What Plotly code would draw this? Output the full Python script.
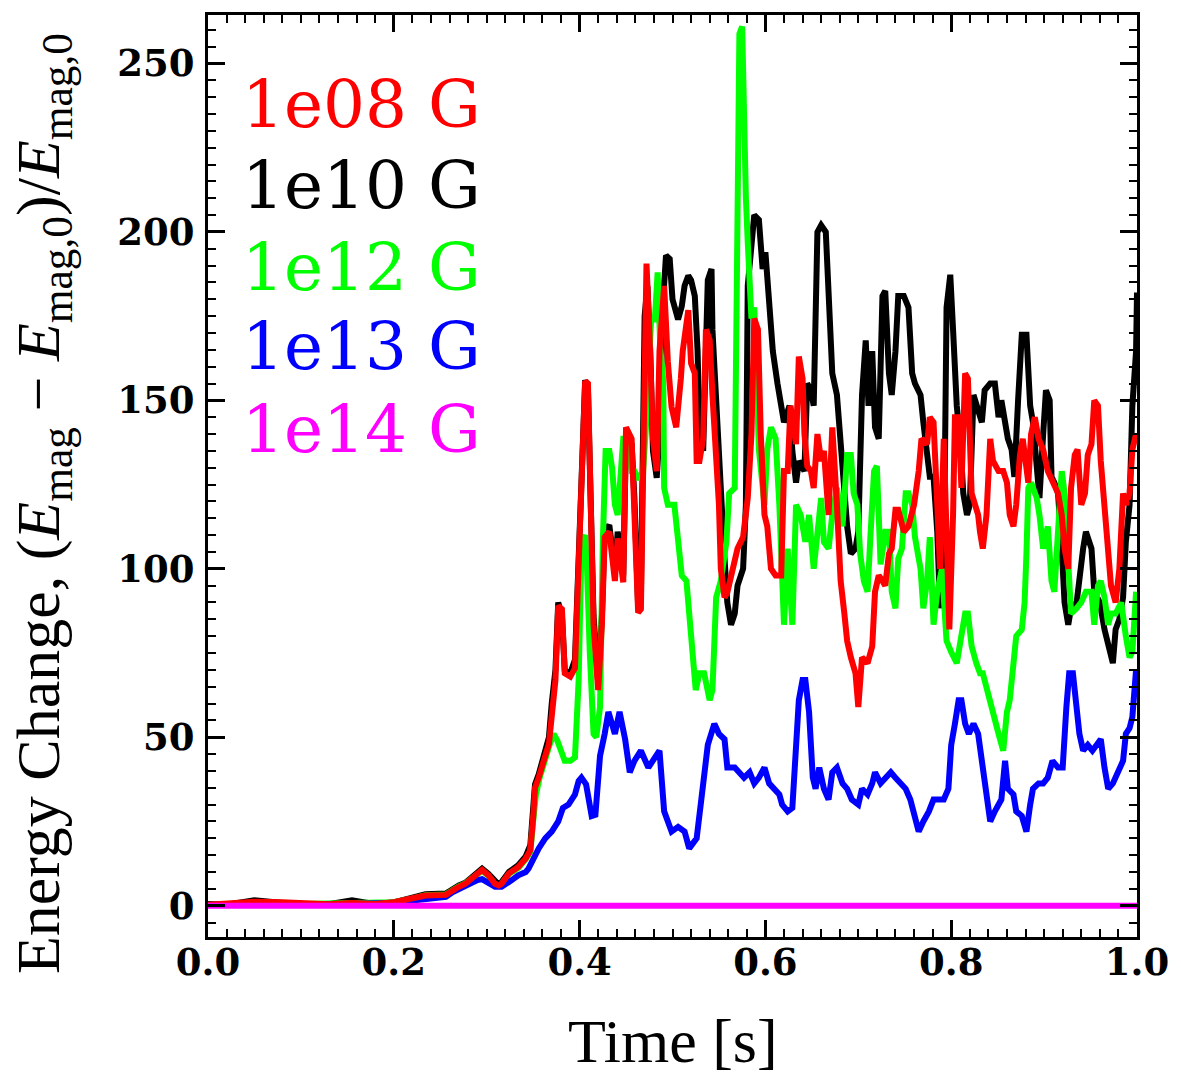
import plotly.graph_objects as go

# Magnetic energy change relative to the initial value, for five seed field strengths.

# 1e08 G
time_1e08 = [
    0.000, 0.020, 0.050, 0.080, 0.100, 0.130, 0.155, 0.180, 0.200, 0.220,
    0.234, 0.256, 0.263, 0.270, 0.277, 0.284, 0.290, 0.295, 0.302, 0.309,
    0.313, 0.316, 0.324, 0.334, 0.342, 0.347, 0.350, 0.352, 0.356, 0.360,
    0.363, 0.367, 0.370, 0.374, 0.377, 0.381, 0.384, 0.390, 0.395, 0.399,
    0.402, 0.406, 0.409, 0.411, 0.415, 0.420, 0.424, 0.427, 0.432, 0.438,
    0.441, 0.447, 0.450, 0.456, 0.459, 0.463, 0.466, 0.468, 0.472, 0.475,
    0.479, 0.483, 0.486, 0.491, 0.495, 0.499, 0.504, 0.509, 0.511, 0.517,
    0.520, 0.524, 0.526, 0.529, 0.533, 0.536, 0.540, 0.543, 0.547, 0.550,
    0.552, 0.556, 0.559, 0.565, 0.570, 0.576, 0.581, 0.585, 0.588, 0.592,
    0.595, 0.599, 0.602, 0.606, 0.611, 0.617, 0.620, 0.624, 0.627, 0.633,
    0.636, 0.640, 0.642, 0.645, 0.649, 0.652, 0.656, 0.660, 0.663, 0.668,
    0.672, 0.677, 0.681, 0.685, 0.688, 0.692, 0.697, 0.700, 0.704, 0.710,
    0.715, 0.718, 0.722, 0.726, 0.729, 0.733, 0.736, 0.740, 0.743, 0.749,
    0.754, 0.760, 0.765, 0.768, 0.774, 0.777, 0.781, 0.785, 0.788, 0.792,
    0.795, 0.798, 0.802, 0.804, 0.808, 0.811, 0.815, 0.818, 0.822, 0.826,
    0.829, 0.831, 0.834, 0.838, 0.842, 0.845, 0.851, 0.856, 0.860, 0.863,
    0.867, 0.870, 0.874, 0.877, 0.883, 0.886, 0.890, 0.894, 0.899, 0.904,
    0.909, 0.915, 0.919, 0.922, 0.926, 0.929, 0.933, 0.936, 0.940, 0.944,
    0.947, 0.951, 0.954, 0.958, 0.961, 0.965, 0.969, 0.972, 0.977, 0.981,
    0.985, 0.988, 0.992, 0.995, 0.999,
]
dE_1e08 = [
    0.3, 0.5, 1.2, 1.0, 0.6, 0.4, 0.8, 0.5, 1.0, 2.0,
    3.0, 3.2, 4.5, 5.6, 6.5, 8.2, 9.5, 10.6, 9.0, 6.5,
    6.0, 6.5, 9.6, 11.5, 14.0, 16.5, 26.0, 35.0, 38.0, 41.0,
    44.5, 48.0, 57.5, 67.0, 89.0, 88.0, 69.0, 68.0, 70.5, 100.0,
    119.0, 155.7, 155.0, 129.0, 83.5, 64.0, 83.5, 109.4, 111.0, 96.4,
    109.0, 96.0, 142.0, 138.6, 119.0, 87.0, 88.0, 129.0, 190.6, 171.0,
    138.6, 129.0, 164.6, 184.0, 161.4, 148.0, 142.0, 156.5, 164.6, 176.8,
    161.0, 158.0, 132.0, 132.0, 138.6, 171.0, 168.0, 151.6, 133.8, 119.0,
    100.0, 91.5, 93.0, 101.0, 106.0, 109.4, 121.0, 140.0, 174.3, 171.0,
    140.0, 116.0, 112.6, 100.0, 98.0, 98.0, 129.0, 129.0, 148.4, 137.0,
    163.0, 156.5, 140.0, 130.5, 129.0, 124.0, 140.0, 132.0, 135.0, 116.0,
    142.0, 119.0, 96.4, 86.7, 78.6, 73.7, 69.0, 59.0, 73.7, 72.0,
    77.0, 93.2, 98.0, 96.4, 95.0, 104.5, 106.0, 117.5, 117.5, 111.0,
    112.6, 119.0, 129.0, 138.6, 137.0, 145.0, 143.5, 119.0, 100.0, 138.6,
    100.0, 82.0, 116.0, 145.0, 145.0, 124.0, 158.0, 156.5, 122.4, 119.0,
    116.0, 111.0, 106.0, 116.0, 138.6, 132.0, 129.0, 129.0, 125.6, 116.0,
    112.6, 119.0, 133.8, 138.6, 125.6, 140.0, 145.0, 138.6, 135.4, 129.0,
    125.6, 122.4, 116.0, 106.0, 100.0, 124.0, 133.8, 135.4, 119.0, 122.4,
    133.8, 137.0, 150.0, 148.4, 132.0, 119.0, 106.0, 95.0, 90.0, 100.0,
    122.4, 119.0, 122.4, 135.4, 140.0,
]

# 1e10 G
time_1e10 = [
    0.000, 0.020, 0.050, 0.080, 0.100, 0.130, 0.155, 0.180, 0.200, 0.220,
    0.234, 0.256, 0.263, 0.270, 0.277, 0.284, 0.290, 0.295, 0.302, 0.309,
    0.313, 0.316, 0.324, 0.334, 0.342, 0.347, 0.350, 0.352, 0.356, 0.360,
    0.363, 0.367, 0.370, 0.374, 0.377, 0.381, 0.384, 0.390, 0.395, 0.399,
    0.402, 0.406, 0.409, 0.411, 0.415, 0.420, 0.424, 0.427, 0.432, 0.438,
    0.441, 0.447, 0.450, 0.456, 0.459, 0.463, 0.466,
    0.470, 0.473, 0.476, 0.479, 0.483, 0.486, 0.490, 0.493, 0.497, 0.500,
    0.504, 0.506, 0.510, 0.513, 0.517, 0.520, 0.524, 0.527, 0.529, 0.533,
    0.538, 0.542, 0.543, 0.547, 0.550, 0.552, 0.556, 0.559, 0.563, 0.567,
    0.570, 0.576, 0.579, 0.581, 0.585, 0.588, 0.593, 0.597, 0.600, 0.604,
    0.608, 0.613, 0.617, 0.620, 0.626, 0.629, 0.633, 0.636, 0.642, 0.645,
    0.649, 0.652, 0.656, 0.660, 0.665, 0.668, 0.672, 0.677, 0.681, 0.685,
    0.688, 0.692, 0.697, 0.700, 0.704, 0.708, 0.711, 0.715, 0.718, 0.722,
    0.726, 0.729, 0.733, 0.736, 0.740, 0.743, 0.749, 0.754, 0.758, 0.761,
    0.767, 0.770, 0.774, 0.777, 0.781, 0.785, 0.788, 0.792, 0.795, 0.799,
    0.802, 0.806, 0.810, 0.813, 0.817, 0.820, 0.824, 0.827, 0.833, 0.836,
    0.842, 0.847, 0.851, 0.854, 0.858, 0.861, 0.865, 0.868, 0.872, 0.876,
    0.881, 0.885, 0.888, 0.892, 0.895, 0.899, 0.902, 0.906, 0.908, 0.911,
    0.915, 0.919, 0.922, 0.926, 0.929, 0.935, 0.938, 0.942, 0.945, 0.951,
    0.954, 0.960, 0.965, 0.970, 0.974, 0.977, 0.981, 0.985, 0.988, 0.992,
    0.995, 0.999, 1.000,
]
dE_1e10 = [
    0.5, 0.3, 1.6, 0.6, 0.3, 0.4, 1.6, 0.4, 1.0, 2.4,
    3.4, 3.6, 5.0, 6.0, 6.8, 8.6, 9.8, 11.0, 9.4, 7.0,
    6.2, 7.0, 10.0, 12.0, 14.6, 18.0, 27.5, 36.0, 39.0, 42.5,
    45.5, 50.0, 60.0, 70.0, 90.0, 86.0, 70.0, 69.0, 73.0, 103.0,
    122.0, 156.0, 153.0, 127.0, 86.0, 66.0, 86.0, 111.0, 113.0, 99.0,
    111.0, 98.0, 140.0, 137.0, 121.0, 89.0, 92.0,
    175.0, 184.0, 165.0, 135.0, 127.0, 140.0, 180.0, 193.0, 192.0, 180.0,
    176.0, 174.0, 178.0, 184.0, 187.0, 185.7, 181.0, 164.6, 142.0, 135.0,
    185.7, 189.0, 171.0, 150.0, 135.0, 116.0, 103.0, 90.0, 83.4, 86.7,
    95.0, 100.0, 119.0, 184.0, 197.0, 205.0, 203.6, 189.0, 194.0, 177.6,
    164.6, 155.0, 148.4, 143.5, 148.4, 135.0, 125.6, 132.0, 129.0, 155.0,
    153.0, 148.4, 200.0, 202.0, 200.0, 177.6, 158.0, 151.6, 135.4, 122.4,
    112.6, 104.5, 106.0, 111.0, 151.6, 167.8, 148.4, 164.6, 142.0, 138.6,
    181.0, 182.5, 158.0, 151.6, 164.6, 181.0, 181.0, 177.6, 158.0, 155.0,
    151.6, 143.5, 133.8, 127.3, 127.3, 111.0, 88.3, 100.0, 177.6, 187.3,
    171.0, 148.4, 137.0, 122.4, 116.0, 119.0, 151.6, 148.4, 143.5, 153.0,
    155.0, 155.0, 145.0, 150.0, 142.0, 138.6, 135.4, 127.3, 150.0, 169.5,
    169.5, 148.4, 143.5, 132.0, 121.0, 140.0, 153.0, 150.0, 127.3, 125.6,
    122.4, 106.0, 90.0, 83.4, 88.3, 90.0, 98.0, 106.0, 111.0, 106.0,
    93.2, 90.0, 82.0, 75.3, 72.0, 82.0, 85.0, 91.5, 108.0, 119.0,
    148.4, 164.6, 182.0,
]

# 1e12 G
time_1e12 = [
    0.000, 0.050, 0.100, 0.150, 0.200, 0.220, 0.234, 0.256, 0.263, 0.270,
    0.277, 0.284, 0.290, 0.295, 0.302, 0.309, 0.313, 0.316, 0.324, 0.334,
    0.342,
    0.347, 0.350, 0.353, 0.357, 0.360, 0.364, 0.368, 0.372, 0.376, 0.380,
    0.384, 0.390, 0.395, 0.399, 0.402, 0.406, 0.408, 0.411, 0.415, 0.418,
    0.422, 0.425, 0.428, 0.432, 0.435, 0.438, 0.441, 0.447, 0.452, 0.456,
    0.459, 0.463, 0.468, 0.472, 0.477, 0.481, 0.484, 0.487, 0.490, 0.491,
    0.495, 0.502, 0.506, 0.510, 0.515, 0.518, 0.522, 0.525, 0.529, 0.534,
    0.540, 0.543, 0.547, 0.552, 0.558, 0.561, 0.567, 0.568, 0.570, 0.572,
    0.575, 0.577, 0.579, 0.581, 0.585, 0.588, 0.591, 0.593, 0.599, 0.602,
    0.606, 0.611, 0.615, 0.617, 0.620, 0.624, 0.629, 0.633, 0.638, 0.643,
    0.647, 0.652, 0.656, 0.660, 0.663, 0.668, 0.672, 0.677, 0.683, 0.688,
    0.692, 0.695, 0.699, 0.702, 0.706, 0.710, 0.713, 0.717, 0.720, 0.724,
    0.729, 0.733, 0.736, 0.740, 0.743, 0.747, 0.751, 0.754, 0.758, 0.761,
    0.767, 0.770, 0.774, 0.777, 0.781, 0.785, 0.790, 0.795, 0.800, 0.806,
    0.810, 0.815, 0.818, 0.822, 0.827, 0.831, 0.834, 0.840, 0.845, 0.851,
    0.856, 0.860, 0.863, 0.867, 0.870, 0.876, 0.879, 0.881, 0.883, 0.886,
    0.892, 0.895, 0.899, 0.904, 0.908, 0.911, 0.915, 0.919, 0.922, 0.926,
    0.929, 0.935, 0.940, 0.945, 0.951, 0.954, 0.958, 0.961, 0.965, 0.969,
    0.972, 0.977, 0.983, 0.988, 0.992, 0.995, 0.999,
]
dE_1e12 = [
    0.2, 0.8, 0.5, 0.6, 1.0, 2.1, 3.1, 3.3, 4.7, 5.7,
    6.6, 8.3, 9.6, 10.4, 8.8, 6.4, 6.0, 6.4, 9.4, 11.2,
    13.8,
    16.0, 25.0, 33.0, 38.0, 41.0, 45.0, 48.0, 51.0, 49.0, 46.0,
    43.0, 43.0, 44.0, 67.0, 108.0, 110.0, 100.0, 75.0, 51.0, 50.0,
    59.0, 108.0, 135.0, 135.0, 130.0, 119.0, 116.0, 138.6, 138.6, 129.0,
    129.0, 127.0, 127.0, 145.0, 174.0, 174.0, 188.0, 165.0, 156.0, 124.0,
    119.0, 119.0, 110.0, 98.0, 96.4, 86.7, 75.3, 64.0, 69.0, 69.0,
    61.0, 64.0, 91.5, 96.4, 108.0, 122.4, 124.0, 163.0, 224.7, 258.8,
    261.0, 229.5, 210.0, 197.0, 174.3, 177.6, 148.4, 135.4, 119.0, 135.4,
    142.0, 138.6, 119.0, 100.0, 83.4, 106.0, 83.4, 119.0, 116.0, 108.0,
    116.0, 100.0, 111.0, 121.0, 108.0, 106.0, 116.0, 124.0, 112.6, 133.8,
    133.8, 122.4, 119.0, 104.5, 96.4, 93.2, 109.4, 129.0, 130.5, 101.3,
    111.0, 111.0, 93.2, 88.3, 103.0, 106.0, 122.4, 122.4, 119.0, 109.4,
    100.0, 88.3, 96.4, 109.4, 83.4, 93.2, 100.0, 78.6, 75.3, 72.0,
    78.6, 86.7, 86.7, 77.0, 72.0, 69.0, 69.0, 62.3, 56.0, 51.0,
    46.0, 57.5, 61.0, 72.0, 80.0, 82.0, 90.0, 104.5, 124.0, 125.6,
    121.0, 116.0, 106.0, 112.6, 96.4, 93.2, 111.0, 129.0, 122.4, 98.0,
    86.7, 88.3, 90.0, 93.2, 93.2, 83.4, 95.0, 96.4, 91.5, 83.4,
    86.7, 86.7, 90.0, 80.0, 73.7, 75.3, 93.2,
]

# 1e13 G
time_1e13 = [
    0.000, 0.050, 0.100, 0.150, 0.200, 0.220, 0.240, 0.256, 0.263, 0.270,
    0.277, 0.284, 0.290, 0.295, 0.300, 0.309, 0.316, 0.322, 0.327, 0.334,
    0.342, 0.345, 0.352, 0.356, 0.363, 0.370, 0.377, 0.382, 0.388, 0.395,
    0.399, 0.402, 0.407, 0.413, 0.417, 0.422, 0.427, 0.431, 0.438, 0.443,
    0.449, 0.454, 0.459, 0.466, 0.474, 0.479, 0.486, 0.491, 0.499, 0.506,
    0.513, 0.518, 0.526, 0.531, 0.538, 0.545, 0.550, 0.556, 0.559, 0.567,
    0.572, 0.577, 0.583, 0.588, 0.593, 0.599, 0.604, 0.610, 0.615, 0.618,
    0.624, 0.629, 0.633, 0.636, 0.640, 0.643, 0.647, 0.651, 0.654, 0.658,
    0.663, 0.668, 0.672, 0.677, 0.683, 0.688, 0.693, 0.700, 0.704, 0.710,
    0.715, 0.718, 0.724, 0.729, 0.735, 0.740, 0.745, 0.751, 0.756, 0.761,
    0.765, 0.770, 0.776, 0.781, 0.786, 0.792, 0.797, 0.800, 0.804, 0.808,
    0.811, 0.815, 0.819, 0.824, 0.829, 0.833, 0.836, 0.842, 0.847, 0.851,
    0.854, 0.858, 0.861, 0.867, 0.870, 0.876, 0.881, 0.885, 0.888, 0.894,
    0.899, 0.904, 0.909, 0.915, 0.920, 0.924, 0.927, 0.931, 0.935, 0.938,
    0.942, 0.947, 0.952, 0.956, 0.961, 0.965, 0.969, 0.974, 0.979, 0.985,
    0.988, 0.992, 0.995, 0.999,
]
dE_1e13 = [
    0.2, 0.5, 0.3, 0.5, 0.8, 1.5, 2.3, 2.6, 4.0, 5.0,
    6.0, 7.0, 7.6, 7.9, 7.2, 5.6, 5.6, 6.5, 7.6, 9.0,
    10.0, 11.0, 15.0, 17.0, 20.0, 22.0, 25.0, 29.0, 30.0, 33.0,
    37.0, 38.0, 36.0, 26.6, 27.0, 44.5, 51.0, 57.5, 51.0, 57.5,
    49.4, 39.6, 43.0, 46.0, 41.0, 43.0, 46.0, 28.0, 22.0, 23.4,
    22.0, 17.0, 20.0, 31.5, 47.7, 54.0, 51.0, 49.4, 41.0, 41.0,
    39.6, 38.0, 39.6, 36.3, 38.0, 41.0, 36.3, 34.7, 33.0, 30.0,
    28.0, 29.0, 51.0, 61.0, 67.0, 67.0, 57.5, 38.0, 34.7, 41.0,
    34.7, 31.5, 39.6, 41.0, 36.3, 34.7, 31.5, 30.0, 34.7, 33.0,
    36.3, 39.6, 36.3, 38.0, 39.6, 38.0, 36.3, 34.7, 31.5, 26.6,
    22.0, 25.0, 28.0, 31.5, 31.5, 31.5, 34.7, 47.7, 54.0, 61.0,
    61.0, 54.0, 51.0, 54.0, 51.0, 43.0, 36.3, 25.0, 28.0, 30.0,
    31.5, 43.0, 34.7, 33.0, 28.0, 26.6, 22.0, 30.0, 34.7, 36.3,
    36.3, 38.0, 43.0, 41.0, 41.0, 59.0, 69.0, 69.0, 59.0, 51.0,
    46.0, 47.7, 46.0, 47.7, 49.4, 41.0, 34.7, 36.3, 39.6, 43.0,
    51.0, 52.7, 56.0, 70.0,
]

# 1e14 G
time_1e14 = [0.000, 0.250, 0.500, 0.750, 1.000]
dE_1e14 = [0.0, 0.0, 0.0, 0.0, 0.0]

# drawing order (last on top) with line colours and labels
series = [
    ("1e10 G", time_1e10, dE_1e10, "#000000"),
    ("1e12 G", time_1e12, dE_1e12, "#00FF00"),
    ("1e13 G", time_1e13, dE_1e13, "#0000FF"),
    ("1e08 G", time_1e08, dE_1e08, "#FF0000"),
    ("1e14 G", time_1e14, dE_1e14, "#FF00FF"),
]
label_order = ["1e08 G", "1e10 G", "1e12 G", "1e13 G", "1e14 G"]
label_colors = {name: color for name, _, _, color in series}

x_ticks = [0.0, 0.2, 0.4, 0.6, 0.8, 1.0]
x_tick_text = ["0.0", "0.2", "0.4", "0.6", "0.8", "1.0"]
y_ticks = [0, 50, 100, 150, 200, 250]

fig = go.Figure()
for name, t, e, color in series:
    fig.add_trace(go.Scatter(
        x=t, y=e, mode="lines", name=name,
        line=dict(color=color, width=6),
        showlegend=False, hoverinfo="skip",
    ))

tick_font = dict(family="DejaVu Serif", size=37, color="black", weight="bold")
common_axis = dict(
    ticks="inside", ticklen=17, tickwidth=3, tickcolor="black",
    showline=True, linewidth=3, linecolor="black", mirror="ticks",
    showgrid=False, zeroline=False, tickfont=tick_font,
)

fig.update_layout(
    width=1181, height=1078,
    margin=dict(l=208, r=40, t=12, b=141),
    paper_bgcolor="white", plot_bgcolor="white",
    xaxis=dict(
        range=[0, 1], tickvals=x_ticks, ticktext=x_tick_text,
        minor=dict(ticks="inside", ticklen=8, tickwidth=2, tickcolor="black",
                   dtick=0.02, tick0=0, showgrid=False),
        ticklabelstandoff=-9,
        **common_axis,
    ),
    yaxis=dict(
        range=[-9.3, 264.4], tickvals=y_ticks,
        minor=dict(ticks="inside", ticklen=8, tickwidth=2, tickcolor="black",
                   dtick=5, tick0=0, showgrid=False),
        ticklabelstandoff=3,
        **common_axis,
    ),
)

# field-strength labels in the upper left corner
label_centers = [101.7, 183.0, 265.0, 345.0, 427.5]
for name, yc in zip(label_order, label_centers):
    fig.add_annotation(
        xref="paper", yref="paper",
        x=(240 - 208) / 933, y=(937 - yc) / 925,
        xanchor="left", yanchor="middle", showarrow=False,
        text=name, font=dict(family="DejaVu Serif", size=66, color=label_colors[name]),
    )

# axis titles
fig.add_annotation(
    xref="paper", yref="paper", x=(675 - 208) / 933, y=(937 - 1041) / 925,
    xanchor="center", yanchor="middle", showarrow=False,
    text="Time [s]", font=dict(family="Liberation Serif", size=62, color="black"),
)
fig.add_annotation(
    xref="paper", yref="paper", x=(42 - 208) / 933, y=(937 - 502) / 925,
    xanchor="center", yanchor="middle", showarrow=False, textangle=-90,
    text="Energy Change, (<i>E</i><sub>mag</sub> \u2212 <i>E</i><sub>mag,0</sub>)/<i>E</i><sub>mag,0</sub>",
    font=dict(family="Liberation Serif", size=62, color="black"),
)

fig.write_html("out.html")
